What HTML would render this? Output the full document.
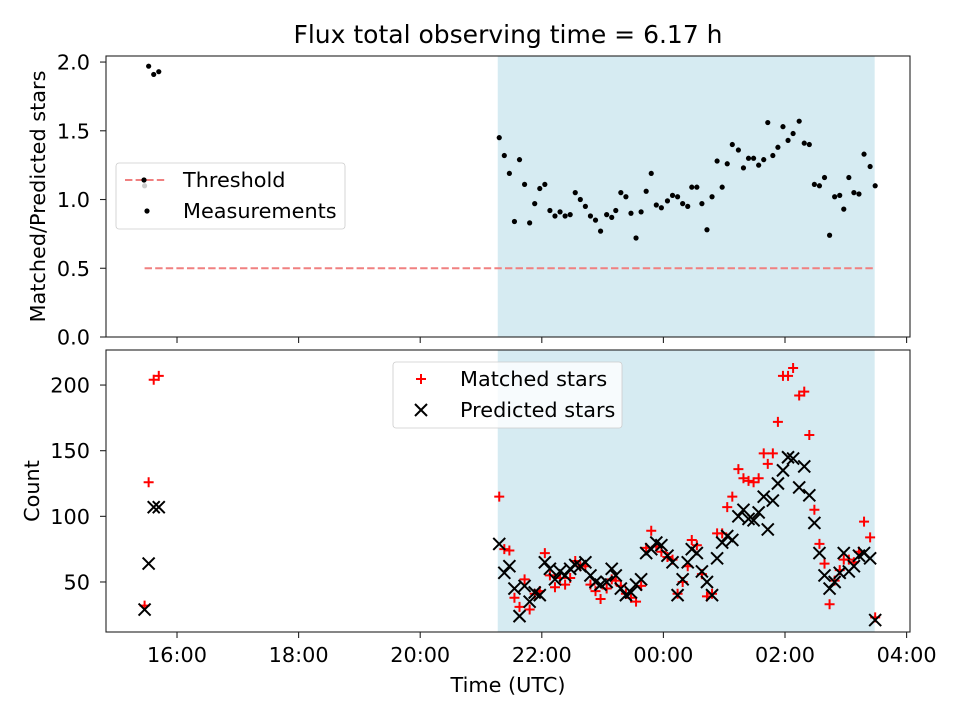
<!DOCTYPE html>
<html><head><meta charset="utf-8">
<style>
html,body{margin:0;padding:0;background:#fff;}
svg{display:block;font-family:"DejaVu Sans","Liberation Sans",sans-serif;}
</style></head>
<body>
<svg id="c" width="960" height="720" viewBox="0 0 960 720" xmlns="http://www.w3.org/2000/svg">
<text x="508" y="43" font-size="25" text-anchor="middle">Flux total observing time = 6.17 h</text>
<g id="topPanel"></g>
<g id="botPanel"></g>
</svg>
<script>
const times = ["15:28","15:32","15:37","15:42",
"21:18","21:23","21:28","21:33","21:38","21:43","21:48","21:53","21:58","22:03","22:08","22:13","22:18","22:23","22:28","22:33","22:38","22:43","22:48","22:53","22:58","23:04","23:09","23:13","23:18","23:23","23:28","23:33","23:38","23:43","23:48","23:53","23:58","00:04","00:09","00:14","00:19","00:24","00:28","00:33","00:38","00:43","00:48","00:53","00:58","01:03","01:08","01:14","01:19","01:24","01:29","01:34","01:39","01:43","01:48","01:53","01:58","02:03","02:08","02:14","02:19","02:24","02:29","02:34","02:39","02:44","02:49","02:54","02:58","03:03","03:08","03:13","03:18","03:24","03:29"];
const ratios = [1.10,1.97,1.91,1.93,
1.45,1.32,1.19,0.84,1.29,1.11,0.83,0.97,1.08,1.11,0.92,0.88,0.91,0.88,0.89,1.05,1.00,0.95,0.88,0.85,0.77,0.89,0.87,0.92,1.05,1.02,0.90,0.72,0.91,1.06,1.19,0.96,0.94,0.99,1.03,1.02,0.97,0.95,
1.09,1.09,0.97,0.78,1.02,1.28,1.09,1.26,1.40,1.36,1.23,1.30,1.30,1.25,1.29,1.56,1.32,1.38,1.53,1.43,1.48,1.57,1.41,1.40,1.11,1.10,1.16,0.74,1.02,1.03,0.93,1.16,1.05,1.04,1.33,1.24,1.10];
const matched = [32,126,204,207,
115,75,74,38,31,52,29,41,43,72,55,46,53,48,53,66,62,62,48,43,37,45,52,51,47,41,38,35,47,76,89,77,73,69,67,41,50,62,
82,78,56,39,41,87,87,107,115,136,129,127,126,129,148,140,148,172,207,207,213,192,195,162,105,79,64,33,51,59,67,67,65,73,96,84,23];
const predicted = [29,64,107,107,
79,57,62,45,24,47,35,42,40,65,60,52,58,55,60,63,62,65,55,50,48,50,60,55,45,40,42,48,52,72,75,80,78,70,65,40,52,65,
75,72,58,50,40,68,80,85,82,100,105,98,97,103,115,90,112,125,135,145,144,122,138,116,95,72,55,45,50,57,72,58,62,70,72,68,21];
const threshold = 0.5;
const xTickLabels = ["16:00","18:00","20:00","22:00","00:00","02:00","04:00"];
const topTicks = [0.0,0.5,1.0,1.5,2.0];
const botTicks = [50,100,150,200];

const NS="http://www.w3.org/2000/svg";
const L=106,R=910;
const XMIN=14.832,XMAX=28.056;
const LBL=20.8, TICK=20.8;
function hourOf(s){const p=s.split(":").map(Number);let v=p[0]+p[1]/60;if(v<12)v+=24;return v;}
function X(h){return L+(h-XMIN)/(XMAX-XMIN)*(R-L);}
const T1=56,B1=337,Y1MIN=0,Y1MAX=2.044;
const T2=350,B2=632,Y2MIN=11.9,Y2MAX=226.7;
function Y1(v){return B1-(v-Y1MIN)/(Y1MAX-Y1MIN)*(B1-T1);}
function Y2(v){return B2-(v-Y2MIN)/(Y2MAX-Y2MIN)*(B2-T2);}
function el(tag,attrs,parent,text){const e=document.createElementNS(NS,tag);for(const k in attrs)e.setAttribute(k,attrs[k]);if(text!==undefined)e.textContent=text;parent.appendChild(e);return e;}
const topG=document.getElementById('topPanel'),botG=document.getElementById('botPanel');
const hs=times.map(hourOf);
const shadeStart=hs[4],shadeEnd=hs[hs.length-1];

function panel(g,T,B,Yf,ticks,fmt,ylabel){
  const sh=el('rect',{x:X(shadeStart)-1.5,y:T,width:X(shadeEnd)-X(shadeStart)+1,height:B-T,fill:'#add8e6','fill-opacity':0.5},g);
  
  
  ticks.forEach(t=>{const y=Yf(t);
    const tk=el('line',{x1:L-6,x2:L,y1:y,y2:y,stroke:'#222','stroke-width':1.1},g);
    
    
    const tl=el('text',{x:L-16,y:y+7.5,'font-size':TICK,'text-anchor':'end'},g,fmt(t));
    
    
  });
  xTickLabels.forEach(s=>{const x=X(hourOf(s));
    const tk=el('line',{x1:x,x2:x,y1:B,y2:B+6,stroke:'#222','stroke-width':1.1},g);
    
    
  });
  const yl=el('text',{x:0,y:0,'font-size':LBL,'text-anchor':'middle',transform:`translate(${ylabel.x},${(T+B)/2}) rotate(-90)`},g,ylabel.t);
  
  
}
panel(topG,T1,B1,Y1,topTicks,v=>v.toFixed(1),{x:45,t:'Matched/Predicted stars'});
panel(botG,T2,B2,Y2,botTicks,v=>String(v),{x:39,t:'Count'});

const th=el('line',{x1:X(hs[0]),x2:X(shadeEnd),y1:Y1(threshold),y2:Y1(threshold),stroke:'#f08080','stroke-width':2,'stroke-dasharray':'7.4,3.2'},topG);


ratios.forEach((v,i)=>{const c=el('circle',{cx:X(hs[i]),cy:Y1(v),r:2.6,fill:'#000'},topG);
  
  });
matched.forEach((v,i)=>{const x=X(hs[i]),y=Y2(v);
  const p=el('path',{d:`M${x-5},${y}H${x+5}M${x},${y-5}V${y+5}`,stroke:'#ff0000','stroke-width':2,fill:'none'},botG);
  
  });
predicted.forEach((v,i)=>{const x=X(hs[i]),y=Y2(v);
  const p=el('path',{d:`M${x-6},${y-6}L${x+6},${y+6}M${x-6},${y+6}L${x+6},${y-6}`,stroke:'#000','stroke-width':2,fill:'none'},botG);
  
  });

xTickLabels.forEach(s=>{const x=X(hourOf(s));
  const t=el('text',{x:x,y:662,'font-size':TICK,'text-anchor':'middle'},botG,s);
  
  });
const xt=el('text',{x:508,y:692,'font-size':LBL,'text-anchor':'middle'},botG,'Time (UTC)');



[[topG,T1,B1],[botG,T2,B2]].forEach(([g,T,B])=>{const f=el('rect',{x:L,y:T,width:R-L,height:B-T,fill:'none',stroke:'#222','stroke-width':1.1},g);
  
  });

function legend(g,x,y,w,h,items){
  const lg=el('g',{},g);
  
  
  el('rect',{x:x,y:y,width:w,height:h,rx:3,fill:'#fff','fill-opacity':0.8,stroke:'#ccc','stroke-width':0.8},lg);
  items.forEach((it,i)=>{const cy=y+17+i*31;const e=el('g',{},lg);
    
    
    it.draw(e,x+28,cy);
    el('text',{x:x+67,y:cy+7,'font-size':LBL},e,it.label);});
}
legend(topG,116,163,229,66,[
 {label:'Threshold',draw:(e,cx,cy)=>{el('line',{x1:cx-19,x2:cx+23,y1:cy,y2:cy,stroke:'#f08080','stroke-width':2,'stroke-dasharray':'7.4,3.2'},e);el('circle',{cx:cx,cy:cy,r:2.6,fill:'#000'},e);}},
 {label:'Measurements',draw:(e,cx,cy)=>{el('circle',{cx:cx+3,cy:cy,r:2.6,fill:'#000'},e);}}]);
legend(botG,393,362,229,66,[
 {label:'Matched stars',draw:(e,cx,cy)=>{el('path',{d:`M${cx-5},${cy}H${cx+5}M${cx},${cy-5}V${cy+5}`,stroke:'#ff0000','stroke-width':2},e);}},
 {label:'Predicted stars',draw:(e,cx,cy)=>{el('path',{d:`M${cx-6},${cy-6}L${cx+6},${cy+6}M${cx-6},${cy+6}L${cx+6},${cy-6}`,stroke:'#000','stroke-width':2},e);}}]);
</script>
</body></html>
